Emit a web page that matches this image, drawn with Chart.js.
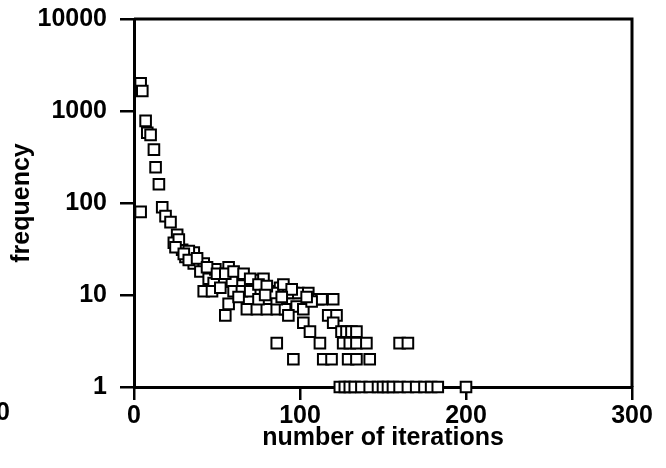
<!DOCTYPE html>
<html>
<head>
<meta charset="utf-8">
<script src="https://cdn.jsdelivr.net/npm/chart.js@4/dist/chart.umd.min.js"></script>
<style>
  body { margin: 0; background: #fff; }
  .wrap { position: relative; width: 666px; height: 468px; overflow: hidden; }
  .stray { position: absolute; left: -4px; top: 397px; font: bold 25px "Liberation Sans", Arial, sans-serif; color: #000; }
</style>
</head>
<body>
<div class="wrap">
  <canvas id="chart" width="666" height="468"></canvas>
  <div class="stray">0</div>
</div>
<script>
// values
const iterations = [
  4, 5, 7, 8, 10, 12, 13, 15, 4, 17, 19, 22, 26, 24, 29, 36, 31, 33, 36, 42,
  40, 45, 49, 57, 63, 72, 78, 53, 59, 48, 42, 47, 52, 60, 65, 70, 83, 88, 96, 57,
  55, 68, 74, 80, 86, 91, 98, 86, 63, 84, 93, 99, 105, 111, 120, 113, 93, 102, 102, 117,
  122, 120, 27, 25, 30, 33, 38, 44, 50, 55, 60, 66, 70, 75, 80, 90, 95, 75, 79, 89,
  107, 104, 106, 125, 128, 131, 134,
  86, 112, 126, 130, 134, 140, 160, 165,
  96, 114, 119, 129, 134, 142,
  124, 127, 130, 133, 137, 142, 147, 150, 153, 156, 160, 165, 170, 175, 179, 183, 200
];
const frequency = [
  2000, 1650, 780, 580, 550, 380, 245, 160, 80, 90, 72, 62, 45, 37, 31, 29, 26, 30, 22, 22,
  18, 15, 19, 20, 16.5, 14.5, 15, 14, 14, 13.5, 11, 11, 12, 11, 11, 11, 11, 12, 10.5, 8,
  6, 7, 7, 7, 7, 7, 7.5, 9, 9.5, 10.5, 10.5, 10.5, 10.5, 9, 9, 9, 6, 7, 5, 6,
  6, 5, 40, 33, 28, 24, 25, 20, 17, 17, 18, 17, 15, 13, 12.5, 13, 11.5, 9, 10, 9.5,
  8.5, 9.5, 4, 4, 4, 4, 4,
  3, 3, 3, 3, 3, 3, 3, 3,
  2, 2, 2, 2, 2, 2,
  1, 1, 1, 1, 1, 1, 1, 1, 1, 1, 1, 1, 1, 1, 1, 1, 1
];
const xTicks = [0, 100, 200, 300];
const yTicks = [1, 10, 100, 1000, 10000];

const points = iterations.map((x, i) => ({ x: x, y: frequency[i] }));
const font = { family: '"Liberation Sans", Arial, sans-serif', size: 25, weight: 'bold' };

// top and right edges of the frame
const frame = {
  id: 'frame',
  beforeDatasetsDraw(chart) {
    const a = chart.chartArea, ctx = chart.ctx;
    ctx.save();
    ctx.strokeStyle = '#000';
    ctx.lineWidth = 3;
    ctx.beginPath();
    ctx.moveTo(a.left, a.top);
    ctx.lineTo(a.right, a.top);
    ctx.lineTo(a.right, a.bottom);
    ctx.stroke();
    ctx.restore();
  }
};

new Chart(document.getElementById('chart').getContext('2d'), {
  type: 'scatter',
  data: {
    datasets: [{
      data: points,
      pointStyle: 'rect',
      pointRadius: 7.5,
      pointHoverRadius: 7.5,
      pointBorderWidth: 2,
      pointBorderColor: '#000',
      pointBackgroundColor: '#fff',
      clip: false
    }]
  },
  options: {
    responsive: false,
    animation: false,
    layout: { padding: { top: 19, right: 34, left: 0, bottom: 15 } },
    plugins: { legend: { display: false }, tooltip: { enabled: false } },
    scales: {
      x: {
        type: 'linear',
        min: 0,
        max: 300,
        afterBuildTicks: (s) => { s.ticks = xTicks.map(v => ({ value: v })); },
        afterFit: (s) => { s.height = 66; s.paddingLeft = 0; s.paddingRight = 0; },
        ticks: { color: '#000', font: font, padding: 1, maxRotation: 0 },
        grid: { drawOnChartArea: false, tickLength: 13, color: '#000', lineWidth: 2.5 },
        border: { color: '#000', width: 3 },
        title: { display: true, text: 'number of iterations', color: '#000', font: font, padding: 0 }
      },
      y: {
        type: 'logarithmic',
        min: 1,
        max: 10000,
        afterBuildTicks: (s) => { s.ticks = yTicks.map(v => ({ value: v })); },
        afterFit: (s) => { s.width = 134; s.paddingTop = 0; s.paddingBottom = 0; },
        ticks: { color: '#000', font: font, padding: 13, callback: (v) => String(v) },
        grid: { drawOnChartArea: false, tickLength: 14, color: '#000', lineWidth: 2.5 },
        border: { color: '#000', width: 3 },
        title: { display: true, text: 'frequency', color: '#000', font: font, padding: 7 }
      }
    }
  },
  plugins: [frame]
});
</script>
</body>
</html>
